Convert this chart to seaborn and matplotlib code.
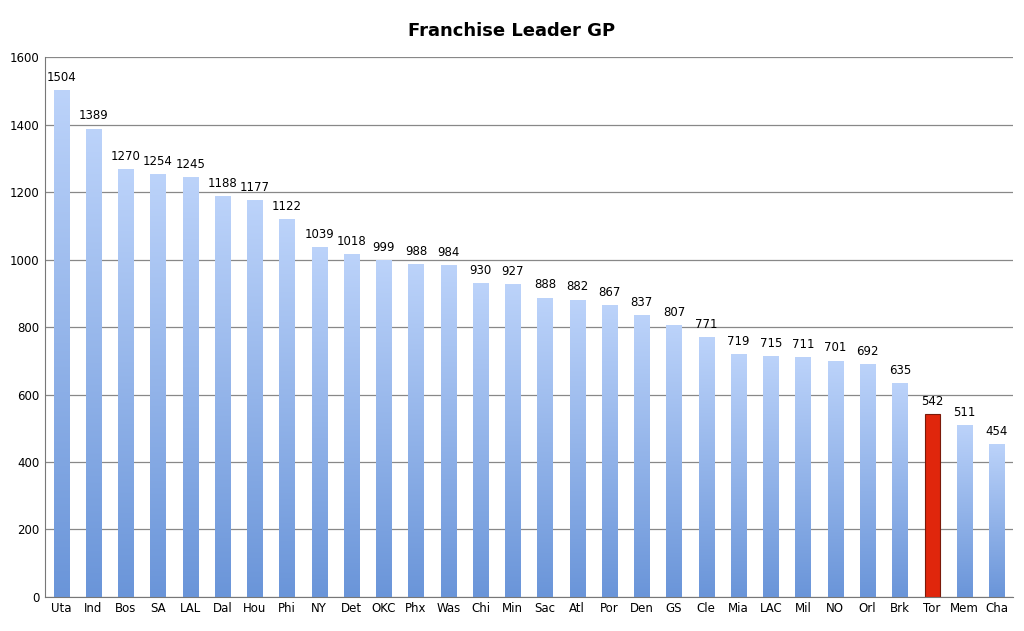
import matplotlib
matplotlib.use("Agg")
import matplotlib.pyplot as plt
import seaborn as sns
import numpy as np
import pandas as pd
from matplotlib.colors import LinearSegmentedColormap

teams = ["Uta","Ind","Bos","SA","LAL","Dal","Hou","Phi","NY","Det","OKC","Phx","Was","Chi","Min",
         "Sac","Atl","Por","Den","GS","Cle","Mia","LAC","Mil","NO","Orl","Brk","Tor","Mem","Cha"]
games = [1504,1389,1270,1254,1245,1188,1177,1122,1039,1018,999,988,984,930,927,
         888,882,867,837,807,771,719,715,711,701,692,635,542,511,454]
highlight = "Tor"

df = pd.DataFrame({"team": teams, "gp": games})
fig = plt.figure(figsize=(10.24, 6.31), dpi=100)
ax = fig.add_axes([0.044, 0.054, 0.945, 0.855])
sns.barplot(data=df, x="team", y="gp", ax=ax, width=0.47, color="#9dbcf0", saturation=1)

cmap = LinearSegmentedColormap.from_list("g", ["#6a95d9", "#bcd3fa"])
grad = np.linspace(0, 1, 256).reshape(-1, 1)
for patch, t, v in zip(ax.patches, teams, games):
    x0, w, h = patch.get_x(), patch.get_width(), patch.get_height()
    if t == highlight:
        patch.set_facecolor("#e0260c"); patch.set_edgecolor("#7a1a0a"); patch.set_linewidth(0.8)
    else:
        patch.set_facecolor("none"); patch.set_edgecolor("none")
        im = ax.imshow(grad, extent=[x0, x0 + w, 0, h], origin="lower", aspect="auto",
                       cmap=cmap, zorder=2)
        im.set_clip_path(patch)
    ax.text(x0 + w / 2, h + 18, str(v), ha="center", va="bottom", fontsize=8.5, color="black")

ax.set_xlim(-0.5, len(teams) - 0.5)
ax.set_ylim(0, 1600)
ax.set_yticks(range(0, 1601, 200))
ax.yaxis.grid(True, color="#888888", linewidth=0.9)
ax.set_axisbelow(True)
for s in ["top", "right"]:
    ax.spines[s].set_visible(False)
ax.spines["left"].set_color("#777777")
ax.spines["bottom"].set_color("#777777")
ax.tick_params(axis="both", labelsize=8.5, length=0, pad=4)
ax.set_xlabel(""); ax.set_ylabel("")
fig.suptitle("Franchise Leader GP", y=0.965, fontsize=13, fontweight="bold")
fig.savefig("out.png", dpi=100)
